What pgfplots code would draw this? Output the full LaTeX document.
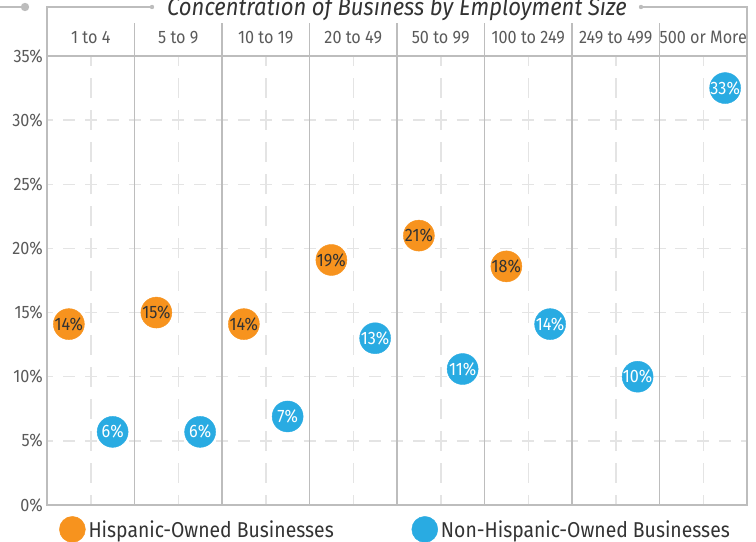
\documentclass[border=0pt]{standalone}
\usepackage{pgfplots}
\pgfplotsset{compat=1.18}
\usepackage{fontspec}
\setmainfont{Fira Sans}[FakeStretch=0.9]
\definecolor{hisp}{HTML}{F7931E}
\definecolor{nonhisp}{HTML}{29ABE2}
\definecolor{gridc}{HTML}{E4E4E4}
\definecolor{linec}{HTML}{BDBDBD}
\definecolor{tickc}{HTML}{5A5A5A}
\definecolor{txt}{HTML}{333333}
\begin{document}
\begin{tikzpicture}
\begin{axis}[
  at={(47bp,37bp)}, anchor=south west,
  scale only axis, width=700bp, height=449bp,
  xmin=0, xmax=8, ymin=0, ymax=35,
  clip=false,
  axis line style={linec, line width=1.2bp},
  xtick={0.5,1.5,...,7.5},
  xticklabels={1 to 4,5 to 9,10 to 19,20 to 49,50 to 99,100 to 249,249 to 499,500 or More},
  xticklabel pos=upper,
  xticklabel style={anchor=base, inner sep=0pt, yshift=12.7bp, font=\fontsize{18bp}{20bp}\selectfont, text=tickc},
  ytick={0,5,...,35},
  yticklabel={\pgfmathprintnumber{\tick}\%},
  yticklabel style={anchor=east, inner sep=0pt, xshift=-4bp, font=\fontsize{18bp}{20bp}\selectfont, text=tickc},
  major tick length=0pt,
  xmajorgrids, ymajorgrids,
  x grid style={gridc, line width=1.5bp, dash pattern=on 20bp off 12.07bp, dash phase=10bp},
  y grid style={gridc, line width=1.5bp, dash pattern=on 12bp off 9.875bp, dash phase=6bp},
  /pgf/number format/assume math mode=true,
  legend columns=2,
  legend style={at={(0.01714,-0.0245)}, anchor=north west, draw=none, fill=none,
    inner xsep=0pt, inner ysep=0pt, nodes={inner sep=0pt, text=txt},
    font=\fontsize{21.5bp}{24bp}\selectfont,
    /tikz/every odd column/.append style={column sep=3bp}},
  legend cell align=left,
  nodes near coords={\pgfmathprintnumber{\pgfplotspointmeta}\%},
  point meta=explicit,
]
\addplot[only marks, mark=*, mark size=15.5bp, mark options={draw=hisp, fill=hisp},
  every node near coord/.append style={anchor=center, text=txt, font=\fontsize{18bp}{20bp}\selectfont},
  legend image code/.code={\fill[hisp] (0bp,0bp) circle (13bp);}]
  coordinates {
  (0.25,14.1) [14]
  (1.25,15.0) [15]
  (2.25,14.1) [14]
  (3.25,19.1) [19]
  (4.25,21.0) [21]
  (5.25,18.6) [18]
  };
\addlegendentry{\makebox[323bp][l]{Hispanic-Owned Businesses}}
\addplot[only marks, mark=*, mark size=15.5bp, mark options={draw=nonhisp, fill=nonhisp},
  every node near coord/.append style={anchor=center, text=white, font=\fontsize{18bp}{20bp}\selectfont},
  legend image code/.code={\fill[nonhisp] (0bp,0bp) circle (13bp);}]
  coordinates {
  (0.75,5.7) [6]
  (1.75,5.7) [6]
  (2.75,6.9) [7]
  (3.75,13.0) [13]
  (4.75,10.6) [11]
  (5.75,14.1) [14]
  (6.75,10.0) [10]
  (7.75,32.5) [33]
  };
\addlegendentry{Non-Hispanic-Owned Businesses}
\pgfplotsinvokeforeach{1,...,7}{
  \draw[linec, line width=1.2bp] (axis cs:#1,0) -- ([yshift=33bp]axis cs:#1,35);
}
\end{axis}
% frame decorations
\draw[linec, line width=1.2bp] (47bp,37bp) -- (47bp,535bp) -- (152bp,535bp);
\fill[linec] (152bp,535bp) circle (2.2bp);
\draw[linec, line width=1.2bp] (747bp,37bp) -- (747bp,535bp) -- (641bp,535bp);
\fill[linec] (641bp,535bp) circle (2.2bp);
\draw[linec, line width=1.6bp] (0bp,535bp) -- (25bp,535bp);
\fill[linec] (25bp,535bp) circle (4.2bp);
\node[anchor=base, inner sep=0pt, text=txt, font=\fontsize{24.5bp}{26bp}\selectfont\itshape] at (397bp,526bp) {Concentration of Business by Employment Size};
\pgfresetboundingbox
\path[use as bounding box] (0bp,0bp) rectangle (756bp,542bp);
\end{tikzpicture}
\end{document}
